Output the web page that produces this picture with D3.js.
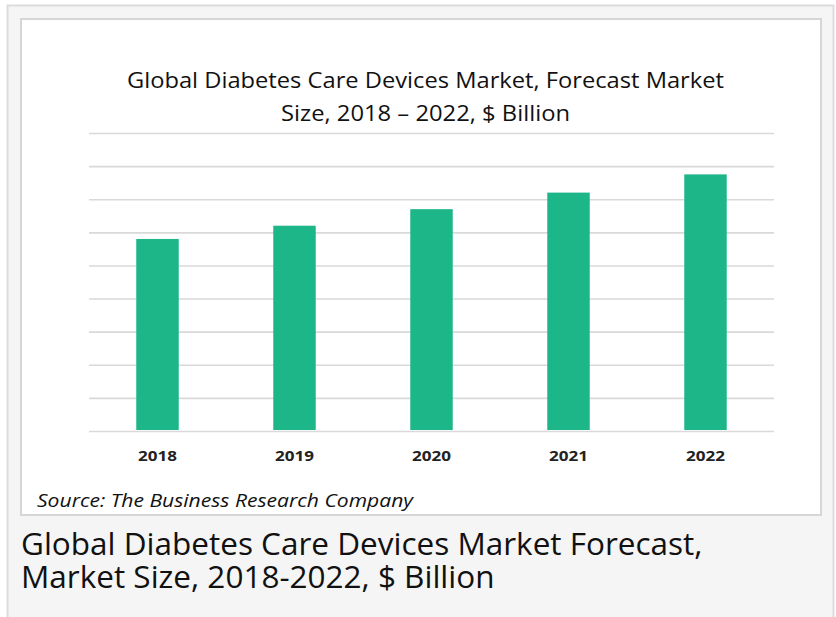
<!DOCTYPE html>
<html>
<head>
<meta charset="utf-8">
<script src="https://cdn.jsdelivr.net/npm/d3@7"></script>
<style>
  body { margin: 0; background: #fff; }
  svg { display: block; }
</style>
</head>
<body>
<div id="chart"></div>
<script>
  // data (hidden y axis, grid step = 1)
  var years = ['2018', '2019', '2020', '2021', '2022']
  var marketSize = [5.8, 6.2, 6.7, 7.2, 7.75]
  var gridTicks = [0, 1, 2, 3, 4, 5, 6, 7, 8, 9]
  var titleLines = ['Global Diabetes Care Devices Market, Forecast Market', 'Size, 2018 \u2013 2022, $ Billion']
  var captionLines = ['Global Diabetes Care Devices Market Forecast,', 'Market Size, 2018-2022, $ Billion']

  var W = 836, H = 617

  var svg = d3.select('#chart').append('svg')
    .attr('width', W)
    .attr('height', H)

  // page frame
  svg.append('rect')
    .attr('x', 7.5).attr('y', 5.5)
    .attr('width', 826).attr('height', 620)
    .attr('fill', '#f5f5f5')
    .attr('stroke', '#dcdcdc')
    .attr('stroke-width', 2)

  // white picture area
  svg.append('rect')
    .attr('x', 21).attr('y', 19)
    .attr('width', 800).attr('height', 496)
    .attr('fill', '#fff')
    .attr('stroke', '#d6d6d6')
    .attr('stroke-width', 2)

  var plot = {left: 89, right: 774, top: 133, bottom: 431}

  var x = d3.scaleBand()
    .domain(years)
    .range([plot.left, plot.right])
    .paddingInner(0.69)
    .paddingOuter(0.345)

  var y = d3.scaleLinear()
    .domain([0, 9])
    .range([plot.bottom, plot.top])

  ///////// gridlines /////////
  svg.append('g')
    .attr('transform', 'translate(' + plot.left + ',0)')
    .call(d3.axisLeft(y).tickValues(gridTicks))
    .call(function(g){
      g.select('.domain').remove()
      g.selectAll('.tick line')
        .attr('x2', plot.right - plot.left)
        .attr('stroke', '#d9d9d9')
        .attr('stroke-width', 1.6)
      g.selectAll('.tick text').remove()
    })

  ///////// bars /////////
  svg.append('g').selectAll('rect')
    .data(marketSize)
    .enter()
    .append('rect')
    .attr('x', function(d, i){ return x(years[i]) })
    .attr('width', x.bandwidth())
    .attr('y', function(d){ return y(d) })
    .attr('height', function(d){ return plot.bottom - 1 - y(d) })
    .attr('fill', '#1db688')

  ///////// x axis labels /////////
  var xAxis = svg.append('g')
    .attr('transform', 'translate(0,' + plot.bottom + ')')
    .call(d3.axisBottom(x).tickSize(0).tickPadding(0))
  xAxis.select('.domain').remove()
  xAxis.selectAll('text')
    .attr('dy', 0)
    .attr('y', 30)
    .attr('font-family', 'Open Sans, sans-serif')
    .attr('font-weight', 'bold')
    .attr('font-size', 14)
    .attr('fill', '#222')
    .attr('textLength', 39)
    .attr('lengthAdjust', 'spacingAndGlyphs')

  ///////// title /////////
  var titleWidths = [597, 289]
  svg.append('g').selectAll('text')
    .data(titleLines)
    .enter()
    .append('text')
    .text(function(d){ return d })
    .attr('x', 425.5)
    .attr('y', function(d, i){ return 88 + i * 33 })
    .attr('text-anchor', 'middle')
    .attr('font-family', 'Open Sans, sans-serif')
    .attr('font-size', 21)
    .attr('fill', '#111')
    .attr('textLength', function(d, i){ return titleWidths[i] })
    .attr('lengthAdjust', 'spacingAndGlyphs')

  ///////// source /////////
  svg.append('text')
    .text('Source: The Business Research Company')
    .attr('x', 37)
    .attr('y', 507)
    .attr('font-family', 'Open Sans, sans-serif')
    .attr('font-style', 'italic')
    .attr('font-size', 18)
    .attr('fill', '#111')
    .attr('textLength', 376)
    .attr('lengthAdjust', 'spacingAndGlyphs')

  ///////// caption under picture /////////
  svg.append('g').selectAll('text')
    .data(captionLines)
    .enter()
    .append('text')
    .text(function(d){ return d })
    .attr('x', 21)
    .attr('y', function(d, i){ return 555 + i * 33 })
    .attr('font-family', 'Open Sans, sans-serif')
    .attr('font-size', 31.5)
    .attr('fill', '#111')
</script>
</body>
</html>
